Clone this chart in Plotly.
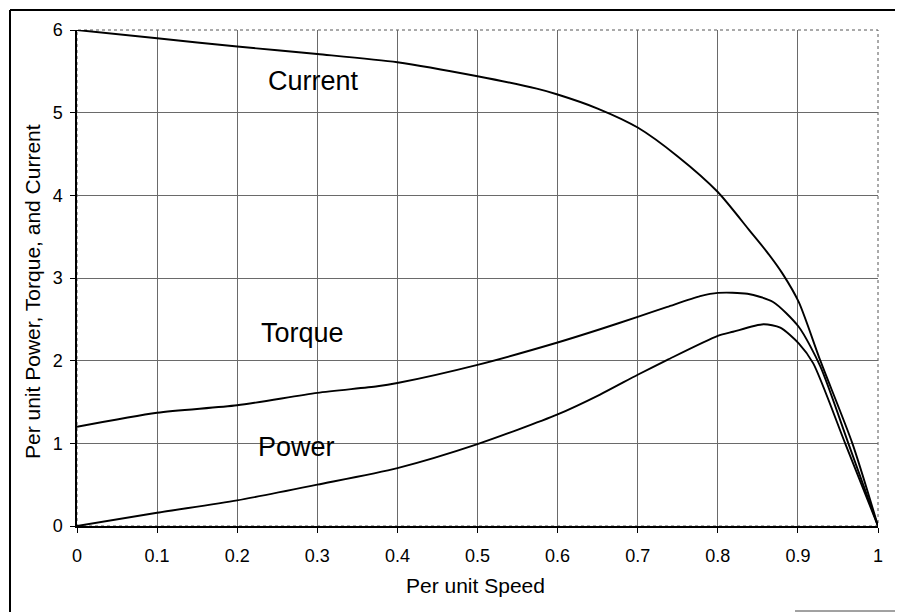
import plotly.graph_objects as go

# ---- data ----
current_x = [0, 0.1, 0.2, 0.3, 0.4, 0.5, 0.574, 0.6, 0.65, 0.70, 0.75, 0.80, 0.84, 0.861, 0.881, 0.901, 0.928, 0.968, 1.0]
current_y = [6.0, 5.90, 5.80, 5.71, 5.61, 5.44, 5.29, 5.22, 5.05, 4.82, 4.47, 4.04, 3.57, 3.32, 3.05, 2.71, 2.0, 1.0, 0.0]

torque_x = [0, 0.1, 0.2, 0.3, 0.375, 0.4, 0.5, 0.6, 0.653, 0.70, 0.737, 0.778, 0.80, 0.837, 0.869, 0.901, 0.928, 0.963, 1.0]
torque_y = [1.2, 1.37, 1.46, 1.61, 1.69, 1.73, 1.95, 2.22, 2.38, 2.53, 2.65, 2.78, 2.82, 2.81, 2.71, 2.41, 1.93, 1.0, 0.0]

power_x = [0, 0.1, 0.2, 0.3, 0.4, 0.5, 0.6, 0.653, 0.70, 0.737, 0.80, 0.819, 0.857, 0.878, 0.901, 0.919, 0.959, 1.0]
power_y = [0, 0.16, 0.31, 0.50, 0.70, 0.99, 1.35, 1.59, 1.83, 2.01, 2.30, 2.35, 2.44, 2.40, 2.21, 1.97, 1.0, 0.0]

x_ticks = [0, 0.1, 0.2, 0.3, 0.4, 0.5, 0.6, 0.7, 0.8, 0.9, 1]
x_tick_text = ["0", "0.1", "0.2", "0.3", "0.4", "0.5", "0.6", "0.7", "0.8", "0.9", "1"]
y_ticks = [0, 1, 2, 3, 4, 5, 6]

labels = ["Current", "Torque", "Power"]
label_x = [0.295, 0.282, 0.274]
label_y = [5.38, 2.33, 0.96]

FONT = "Liberation Sans, Arial, sans-serif"
OFF = 8  # page body margin
W, H = 903, 613
L, R, T, B = 77 - OFF, 25 + OFF, 30 - OFF, 87 + OFF

fig = go.Figure()
for xs, ys, name in [(current_x, current_y, "Current"), (torque_x, torque_y, "Torque"), (power_x, power_y, "Power")]:
    fig.add_trace(go.Scatter(x=xs, y=ys, mode="lines", name=name,
                             line=dict(color="black", width=1.9, shape="spline", smoothing=0.7)))

for t, xx, yy in zip(labels, label_x, label_y):
    fig.add_annotation(x=xx, y=yy, xref="x", yref="y", text=t, showarrow=False,
                       font=dict(family=FONT, size=27, color="black"))

pw = W - L - R
ph = H - T - B
def px(x):  # screen pixel -> paper
    return (x - OFF - L) / pw
def py(y):
    return (OFF + T + ph - y) / ph

# axis titles
fig.add_annotation(x=px(475), y=py(585), xref="paper", yref="paper", text="Per unit Speed",
                   showarrow=False, font=dict(family=FONT, size=21, color="black"),
                   xanchor="center", yanchor="middle")
fig.add_annotation(x=px(32), y=py(292), xref="paper", yref="paper",
                   text="Per unit Power, Torque, and Current", textangle=-90,
                   showarrow=False, font=dict(family=FONT, size=21, color="black"),
                   xanchor="center", yanchor="middle")

# outer frame (scanned page border)
fig.add_shape(type="line", xref="paper", yref="paper", x0=px(10), x1=px(10), y0=py(612), y1=py(10),
              line=dict(color="black", width=2))
fig.add_shape(type="line", xref="paper", yref="paper", x0=px(10), x1=px(903), y0=py(10), y1=py(10),
              line=dict(color="black", width=2))
fig.add_shape(type="line", xref="paper", yref="paper", x0=px(795), x1=px(903), y0=py(611), y1=py(611),
              line=dict(color="#444", width=1))

fig.update_layout(
    width=W, height=H,
    margin=dict(l=L, r=R, t=T, b=B),
    paper_bgcolor="white", plot_bgcolor="white",
    showlegend=False,
    font=dict(family=FONT, color="black"),
)
fig.update_xaxes(range=[0, 1], tickvals=x_ticks, ticktext=x_tick_text,
                 showgrid=True, gridcolor="#6a6a6a", gridwidth=1,
                 showline=True, linecolor="black", linewidth=1.5, mirror=False,
                 ticks="outside", ticklen=5, tickcolor="black",
                 tickfont=dict(family=FONT, size=18, color="black"),
                 ticklabelstandoff=8, zeroline=False)
fig.update_yaxes(range=[0, 6], tickvals=y_ticks,
                 showgrid=True, gridcolor="#6a6a6a", gridwidth=1,
                 showline=True, linecolor="black", linewidth=1.5, mirror=False,
                 ticks="outside", ticklen=5, tickcolor="black",
                 tickfont=dict(family=FONT, size=18, color="black"),
                 ticklabelstandoff=4, zeroline=False)
# dotted plot border on top and right
fig.add_shape(type="rect", xref="paper", yref="paper", x0=0, x1=1, y0=0, y1=1,
              line=dict(color="#555", width=1, dash="dot"), layer="below")

fig.write_html("out.html")
